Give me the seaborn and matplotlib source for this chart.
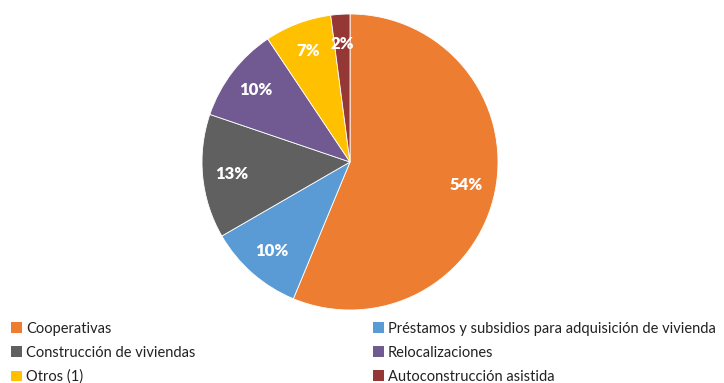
import matplotlib
matplotlib.use("Agg")
import matplotlib.pyplot as plt
from matplotlib.patches import Patch
import seaborn as sns

categories = [
    "Cooperativas",
    "Préstamos y subsidios para adquisición de vivienda",
    "Construcción de viviendas",
    "Relocalizaciones",
    "Otros (1)",
    "Autoconstrucción asistida",
]
shares = [54, 10, 13, 10, 7, 2]
colors = ["#ED7D31", "#5B9BD5", "#606060", "#715A91", "#FFC000", "#953735"]

sns.set_theme(style="white")
plt.rcParams["font.family"] = ["Lato", "DejaVu Sans"]

fig = plt.figure(figsize=(7.24, 3.83), dpi=100)
ax = fig.add_axes([202 / 724, 73 / 383, 296 / 724, 296 / 383])

palette = sns.color_palette(colors)
wedges, texts, autotexts = ax.pie(
    shares,
    colors=palette,
    startangle=90,
    counterclock=False,
    autopct=lambda p: "",
    pctdistance=0.8,
    wedgeprops=dict(linewidth=0.6, edgecolor="white"),
)
for t, v in zip(autotexts, shares):
    t.set_text(f"{v}%")
    t.set_color("white")
    t.set_fontweight("heavy")
    t.set_fontsize(12)
ax.set_xlim(-1.0, 1.0)
ax.set_ylim(-1.0, 1.0)
ax.set_aspect("equal")
ax.axis("off")

handles = [Patch(facecolor=c, edgecolor="none") for c in colors]
order = [0, 2, 4, 1, 3, 5]
fig.legend(
    [handles[i] for i in order],
    [categories[i] for i in order],
    loc="upper left",
    bbox_to_anchor=(0.007, (383 - 316) / 383),
    ncol=2,
    frameon=False,
    fontsize=10.5,
    labelcolor="#222222",
    handlelength=0.75,
    handleheight=0.75,
    handletextpad=0.3,
    columnspacing=12.15,
    labelspacing=0.68,
    borderaxespad=0.0,
)

fig.savefig("out.png", dpi=100)
